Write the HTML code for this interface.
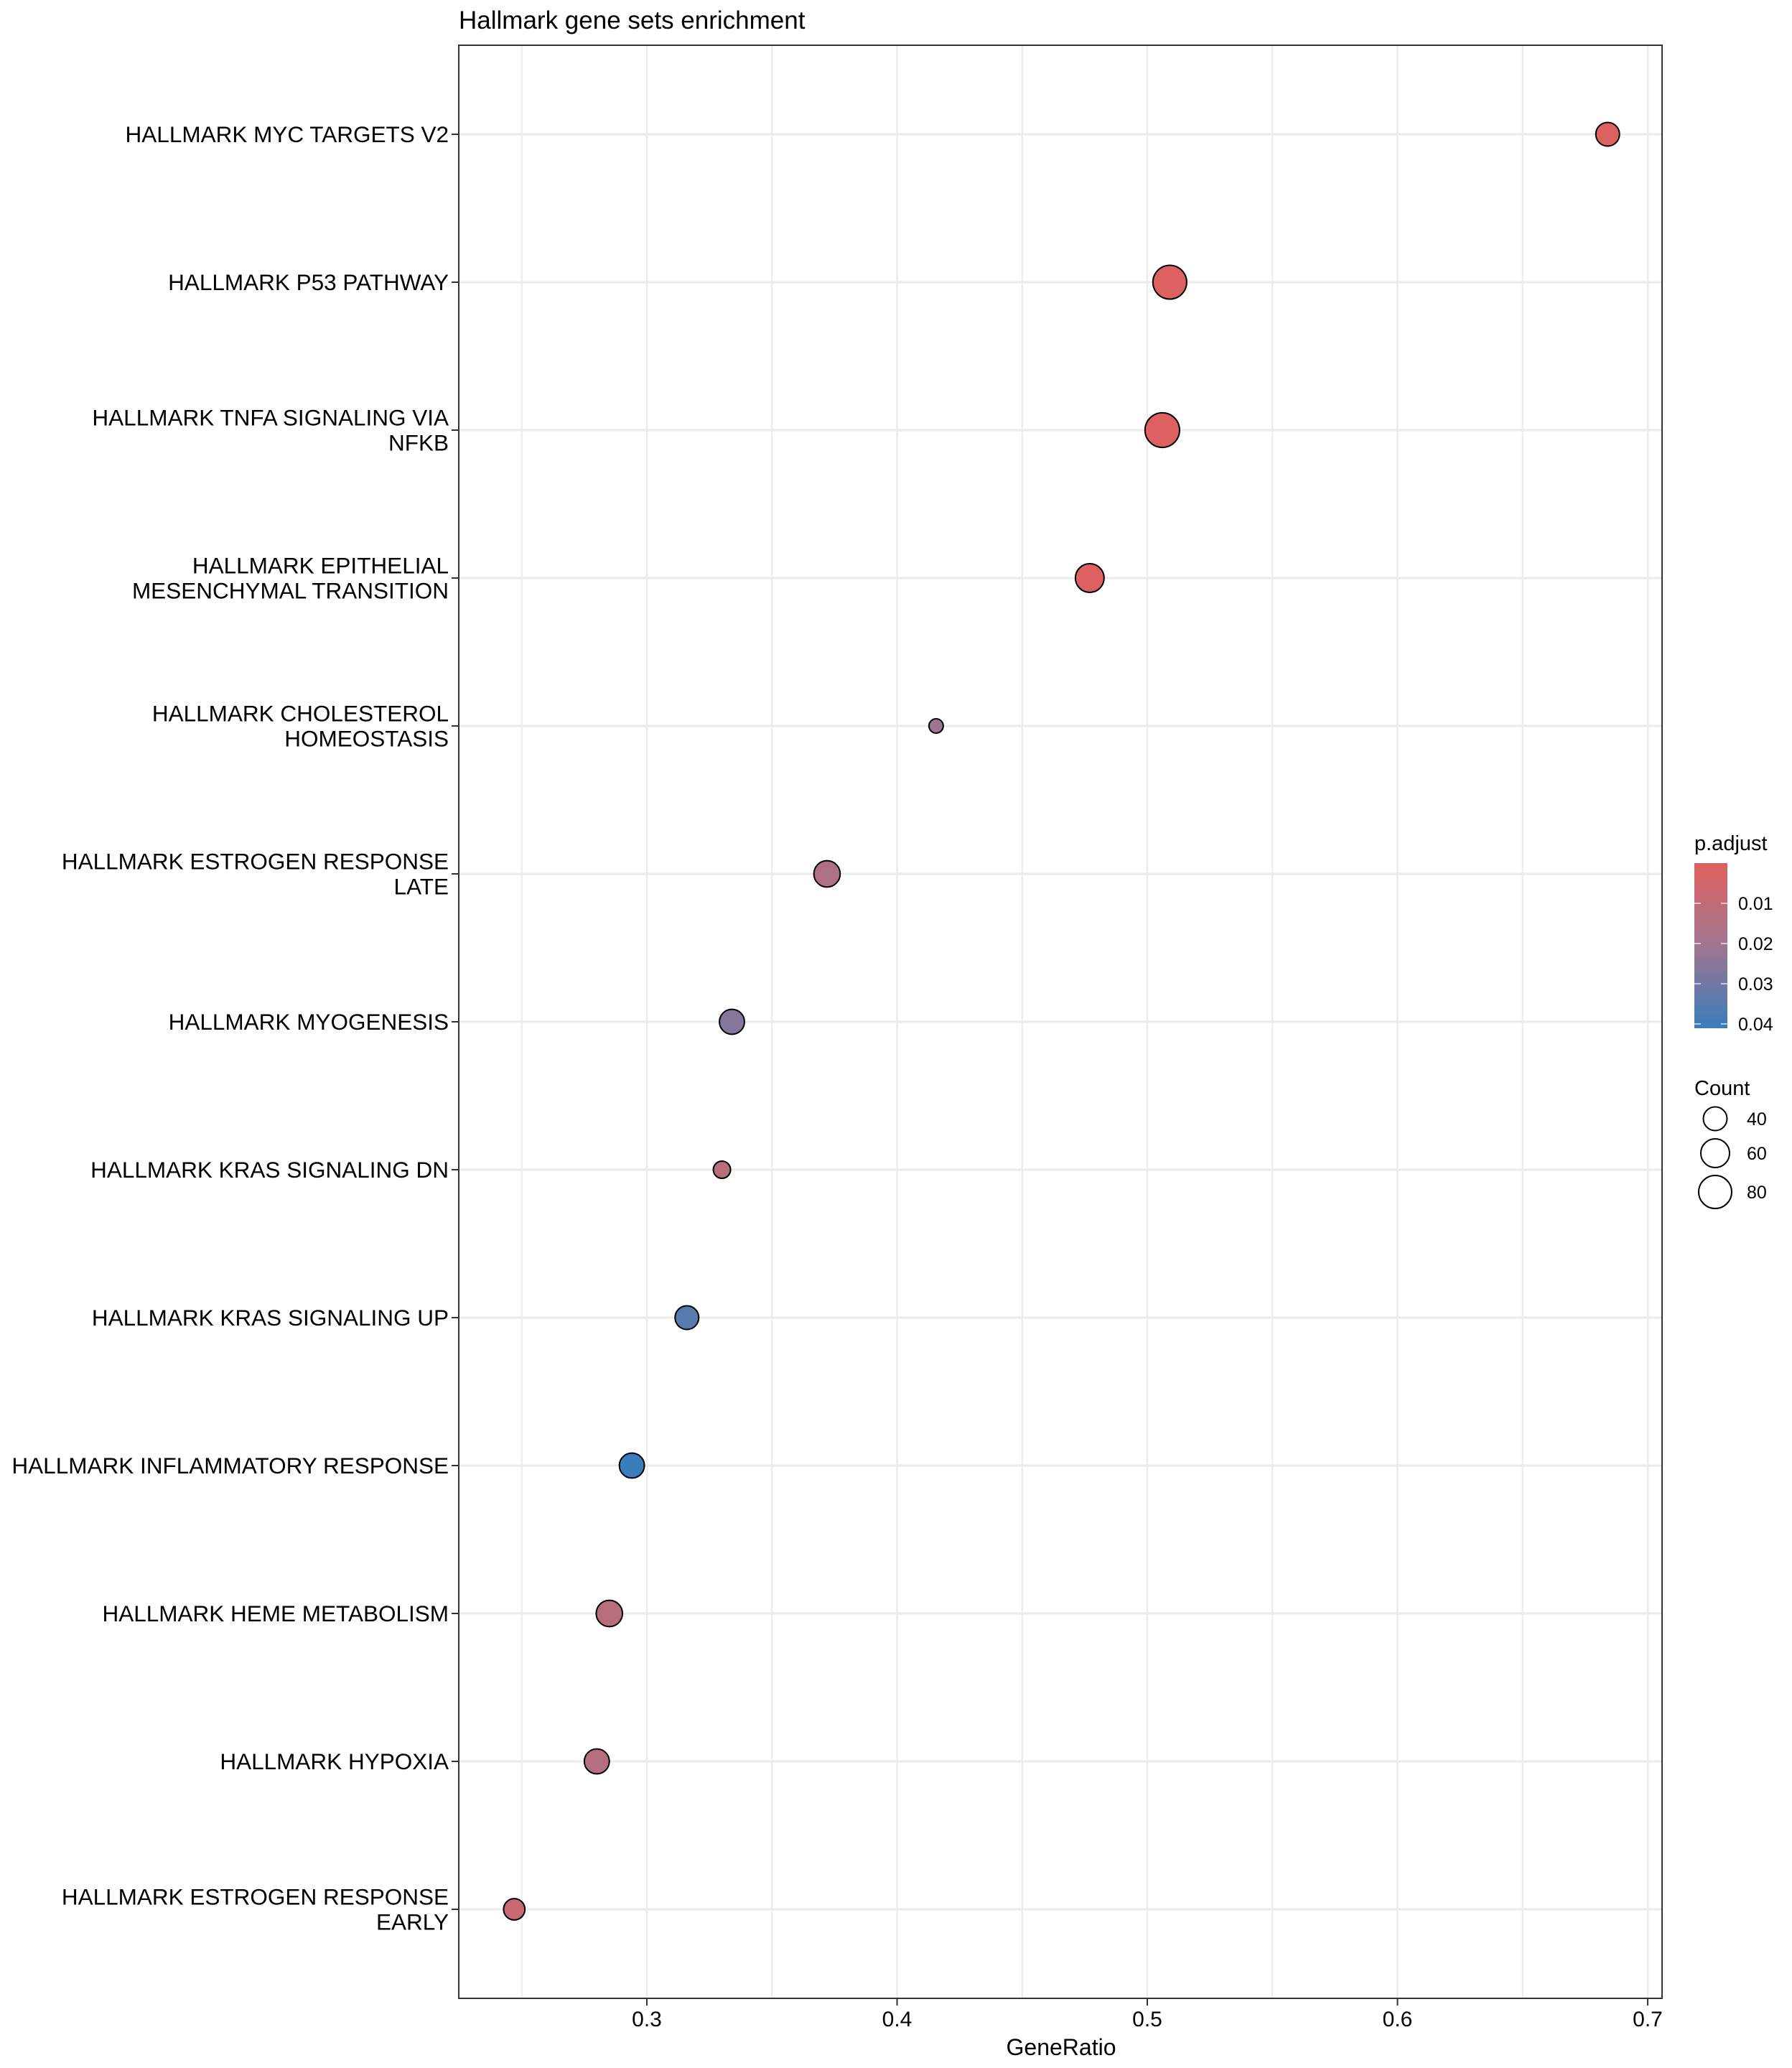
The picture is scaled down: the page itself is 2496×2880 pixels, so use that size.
<!DOCTYPE html>
<html><head><meta charset="utf-8"><style>
html,body{margin:0;padding:0;background:#fff;}
svg{display:block;font-family:"Liberation Sans",Arial,sans-serif;}
</style></head><body>
<svg id="chart" width="2496" height="2880" viewBox="0 0 2496 2880">
<text x="639" y="40" font-size="35" fill="#000">Hallmark gene sets enrichment</text>
<g id="grid"></g>
<g id="ylabels"></g>
<g id="xlabels"></g>
<g id="points"></g>
<rect x="639" y="63" width="1676" height="2720" fill="none" stroke="#333" stroke-width="2"/>
<text x="1478" y="2862" font-size="32" text-anchor="middle" fill="#000">GeneRatio</text>
<defs><linearGradient id="pg" x1="0" y1="0" x2="0" y2="1">
<stop offset="0" stop-color="#e0605f"/><stop offset="0.5" stop-color="#a0758f"/><stop offset="1" stop-color="#3a7dbb"/></linearGradient></defs>
<g>
<text x="2360" y="1184" font-size="29" fill="#000">p.adjust</text>
<rect x="2360" y="1202" width="46" height="230" fill="url(#pg)"/>
<g id="cticks"></g>
</g>
<g>
<text x="2360" y="1525" font-size="29" fill="#000">Count</text>
<g id="sizekeys"></g>
</g>
</svg>
<script>
const categories = ["HALLMARK MYC TARGETS V2","HALLMARK P53 PATHWAY","HALLMARK TNFA SIGNALING VIA|NFKB","HALLMARK EPITHELIAL|MESENCHYMAL TRANSITION","HALLMARK CHOLESTEROL|HOMEOSTASIS","HALLMARK ESTROGEN RESPONSE|LATE","HALLMARK MYOGENESIS","HALLMARK KRAS SIGNALING DN","HALLMARK KRAS SIGNALING UP","HALLMARK INFLAMMATORY RESPONSE","HALLMARK HEME METABOLISM","HALLMARK HYPOXIA","HALLMARK ESTROGEN RESPONSE|EARLY"];
const geneRatio = [0.684,0.509,0.506,0.477,0.4156,0.372,0.334,0.330,0.316,0.294,0.285,0.280,0.247];
const counts = [40,84,88,60,13,50,45,20,40,45,50,45,32];
const pAdjust = [0.001,0.001,0.001,0.001,0.021,0.016,0.026,0.013,0.035,0.041,0.013,0.014,0.008];
const xTicks = [0.3,0.4,0.5,0.6,0.7];
const xMinor = [0.25,0.35,0.45,0.55,0.65];
const colorTicks = [0.01,0.02,0.03,0.04];
const sizeKeys = [40,60,80];

const NS="http://www.w3.org/2000/svg";
function mk(t,a,p){const e=document.createElementNS(NS,t);for(const k in a)e.setAttribute(k,a[k]);p.appendChild(e);return e;}
const xS=v=>901+(v-0.3)*3485;
const yS=i=>187+i*206;
const rS=c=>Math.sqrt(6.4*c+16);
const cS=p=>1258+(p-0.01)*5600;
function colorOf(p){
  const t=Math.max(0,Math.min(1,p/0.0411));
  const a=[224,96,95],m=[160,117,143],b=[58,125,187];
  let c;
  if(t<0.5){const u=t/0.5;c=a.map((v,i)=>v+(m[i]-v)*u);}else{const u=(t-0.5)/0.5;c=m.map((v,i)=>v+(b[i]-v)*u);}
  return "rgb("+c.map(Math.round).join(",")+")";
}
const grid=document.getElementById('grid');
xMinor.forEach(v=>{
  const l=mk('line',{x1:xS(v),x2:xS(v),y1:64,y2:2782,stroke:'#ececec','stroke-width':2},grid);
  
  
});
xTicks.forEach(v=>{
  const l=mk('line',{x1:xS(v),x2:xS(v),y1:64,y2:2782,stroke:'#ebebeb','stroke-width':2.5},grid);
  
  
});
categories.forEach((c,i)=>{
  const l=mk('line',{x1:640,x2:2314,y1:yS(i),y2:yS(i),stroke:'#ebebeb','stroke-width':3},grid);
  
  
});
const yl=document.getElementById('ylabels');
categories.forEach((c,i)=>{
  const lines=c.split('|');
  const tk=mk('line',{x1:629,x2:639,y1:yS(i),y2:yS(i),stroke:'#333','stroke-width':2},yl);
  
  
  const t=mk('text',{x:625,'font-size':31.5,'text-anchor':'end',fill:'#000'},yl);
  
  
  const y0=yS(i)+11-(lines.length-1)*17.5;
  lines.forEach((s,j)=>{const ts=mk('tspan',{x:625,y:y0+j*35},t);ts.textContent=s;});
});
const xl=document.getElementById('xlabels');
xTicks.forEach(v=>{
  const tk=mk('line',{x1:xS(v),x2:xS(v),y1:2783,y2:2793,stroke:'#333','stroke-width':2},xl);
  
  
  const t=mk('text',{x:xS(v),y:2822,'font-size':30,'text-anchor':'middle',fill:'#000'},xl);
  
  
  t.textContent=String(v);
});
const pts=document.getElementById('points');
categories.forEach((c,i)=>{
  const ci=mk('circle',{cx:xS(geneRatio[i]),cy:yS(i),r:rS(counts[i]),fill:colorOf(pAdjust[i]),stroke:'#000','stroke-width':2},pts);
  
  
});
const ct=document.getElementById('cticks');
colorTicks.forEach(v=>{
  const y=cS(v);
  const a=mk('line',{x1:2360,x2:2369,y1:y,y2:y,stroke:'#fff','stroke-width':1.5,opacity:0.8},ct);
  
  
  const b=mk('line',{x1:2397,x2:2406,y1:y,y2:y,stroke:'#fff','stroke-width':1.5,opacity:0.8},ct);
  
  
  const t=mk('text',{x:2421,y:y+9,'font-size':25,fill:'#000'},ct);
  
  
  t.textContent=v.toFixed(2);
});
const sk=document.getElementById('sizekeys');
const keyY=[1558,1606,1660];
sizeKeys.forEach((v,i)=>{
  const c=mk('circle',{cx:2389,cy:keyY[i],r:rS(v),fill:'none',stroke:'#000','stroke-width':2},sk);
  
  
  const t=mk('text',{x:2433,y:keyY[i]+9,'font-size':25,fill:'#000'},sk);
  
  
  t.textContent=String(v);
});
</script>
</body></html>
